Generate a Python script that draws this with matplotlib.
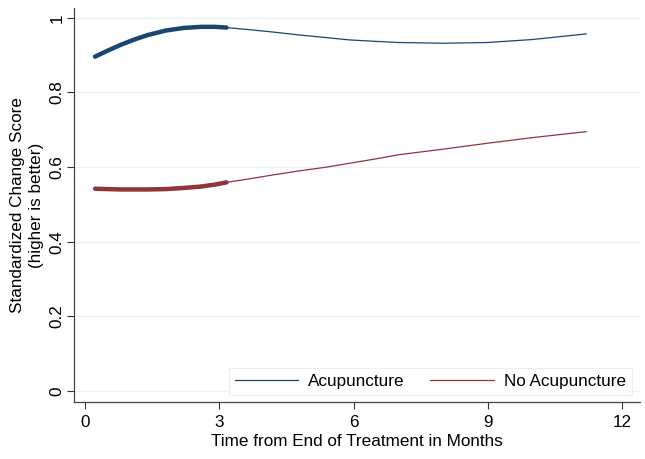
import matplotlib.pyplot as plt
from matplotlib.lines import Line2D

# *** Data ***#
# months after end of treatment; the first part (to ~3.2 months) is drawn thick
months_early = [0.22, 0.5, 0.8, 1.1, 1.4, 1.8, 2.2, 2.6, 2.9, 3.16]
acu_early = [0.896, 0.912, 0.928, 0.942, 0.954, 0.966, 0.973, 0.976, 0.976, 0.974]
noacu_early = [0.542, 0.541, 0.540, 0.540, 0.540, 0.541, 0.544, 0.548, 0.553, 0.559]

months_late = [3.16, 3.7, 4.2, 4.8, 5.4, 5.9, 6.5, 7.0, 8.0, 9.0, 10.0, 11.2]
acu_late = [0.974, 0.968, 0.962, 0.954, 0.947, 0.941, 0.937, 0.934, 0.932, 0.934, 0.942, 0.957]
noacu_late = [0.559, 0.569, 0.579, 0.590, 0.600, 0.610, 0.622, 0.633, 0.648, 0.664, 0.679, 0.695]

x_ticks = [0, 3, 6, 9, 12]
y_ticks = [0, 0.2, 0.4, 0.6, 0.8, 1]
y_labels = ["0", "0.2", "0.4", "0.6", "0.8", "1"]

navy = "#1a476f"
maroon = "#90353b"
fs = 12.3

plt.rcParams["font.family"] = ["Liberation Sans", "DejaVu Sans"]

fig = plt.figure(figsize=(6.45, 4.59), dpi=100)
ax = fig.add_axes([0.1147, 0.124, 0.8773, 0.859])

ax.plot(months_early, acu_early, color=navy, lw=3.2, solid_capstyle="round")
ax.plot(months_late, acu_late, color=navy, lw=0.9)
ax.plot(months_early, noacu_early, color=maroon, lw=3.2, solid_capstyle="round")
ax.plot(months_late, noacu_late, color=maroon, lw=0.9)

ax.set_xlim(-0.25, 12.4)
ax.set_ylim(-0.03, 1.027)
ax.set_xticks(x_ticks)
ax.set_yticks(y_ticks)
ax.set_yticklabels(y_labels, rotation=90, va="center")
ax.tick_params(labelsize=fs, length=5, width=0.8, color="#333333")
ax.tick_params(axis="y", pad=2)
ax.tick_params(axis="x", pad=4)
ax.grid(axis="y", color="#eaf2f3", lw=0.9)
ax.set_axisbelow(True)
for side in ["top", "right"]:
    ax.spines[side].set_visible(False)
for side in ["left", "bottom"]:
    ax.spines[side].set_color("#444444")
    ax.spines[side].set_linewidth(0.9)

ax.set_xlabel("Time from End of Treatment in Months", fontsize=fs, labelpad=3)
ax.set_ylabel("Standardized Change Score\n(higher is better)", fontsize=fs,
              labelpad=4, linespacing=1.35)

handles = [Line2D([], [], color=navy, lw=0.9), Line2D([], [], color=maroon, lw=0.9)]
leg = ax.legend(handles, ["Acupuncture", "No Acupuncture"], ncol=2, loc="lower right",
                bbox_to_anchor=(0.986, 0.018), borderaxespad=0, fontsize=fs,
                handlelength=3.7, handletextpad=0.6, columnspacing=1.5,
                fancybox=False, framealpha=1, borderpad=0.35)
leg.get_frame().set_edgecolor("#eeeeee")
leg.get_frame().set_linewidth(0.8)

plt.savefig("out.png", dpi=100)
